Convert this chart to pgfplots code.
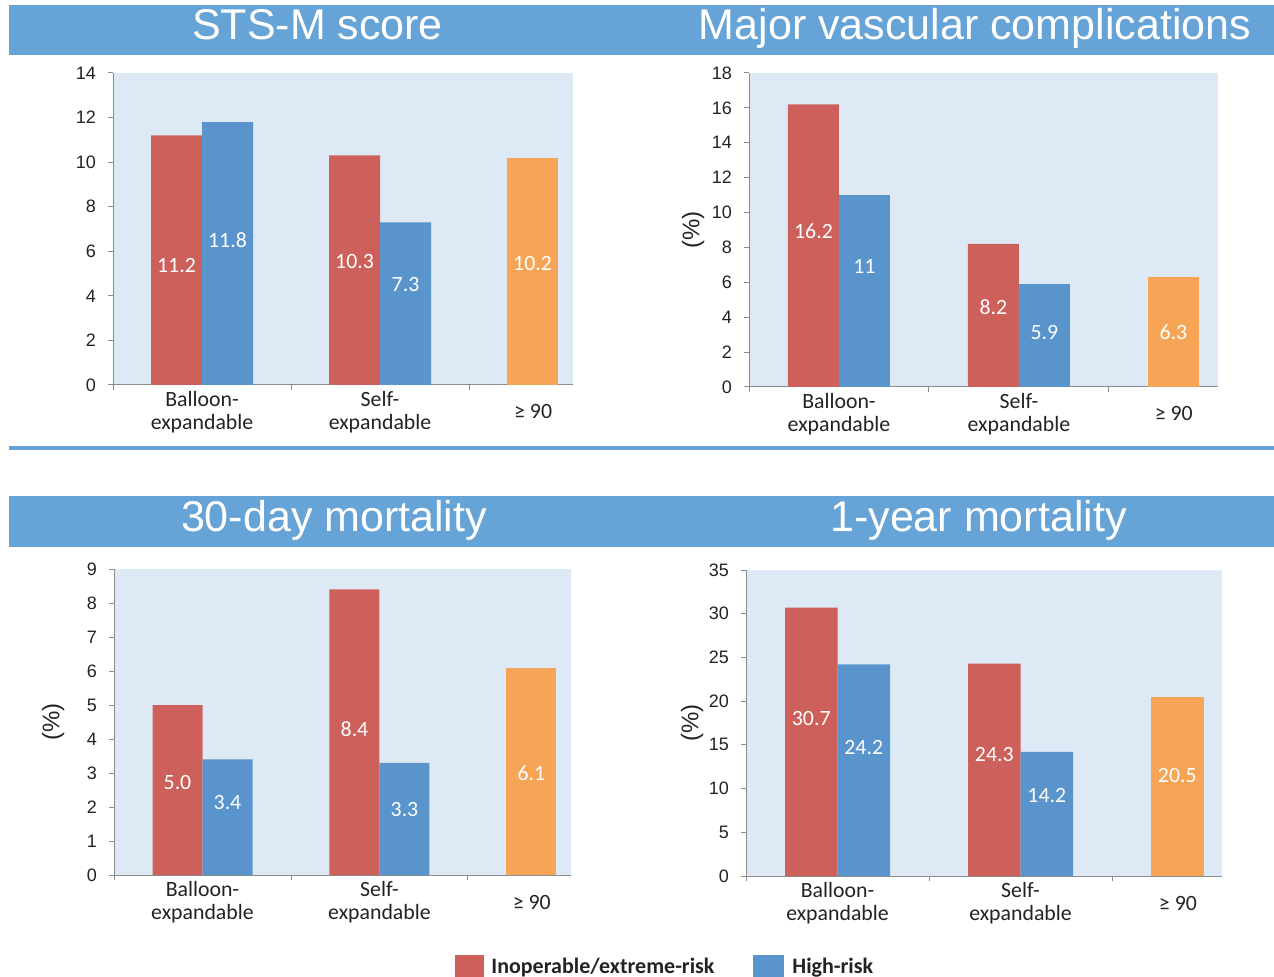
\documentclass[border=0pt]{standalone}
\usepackage{pgfplots}
\pgfplotsset{compat=1.18}
\usepackage{fontspec}
\setmainfont{Liberation Sans}
\newfontfamily\calibri{Carlito}

\definecolor{banner}{RGB}{102,163,215}
\definecolor{barred}{RGB}{205,96,90}
\definecolor{barblue}{RGB}{90,148,204}
\definecolor{barorange}{RGB}{245,165,85}
\definecolor{plotbg}{RGB}{221,234,246}
\definecolor{axisgray}{RGB}{140,140,140}
\definecolor{labeltext}{RGB}{35,35,35}

\tikzset{
  vlabel/.style={font=\calibri\fontsize{10.9}{12}\selectfont, text=white, inner sep=0pt},
  paneltitle/.style={font=\fontsize{21.5}{24}\selectfont, text=white, anchor=base, inner sep=0pt},
}

\pgfplotsset{
  panel/.style={
    scale only axis,
    anchor=south west,
    clip=false,
    axis x line*=bottom,
    axis y line*=left,
    axis line style={-, draw=axisgray, line width=0.5pt},
    axis background/.style={fill=plotbg},
    xmin=0, ymin=0,
    xtick={0,1,2}, xticklabels={},
    tick align=outside,
    major tick length=2.5pt,
    tick style={draw=axisgray, line width=0.5pt},
    /pgf/number format/assume math mode=true,
    yticklabel style={font=\fontsize{9}{10}\selectfont, text=labeltext, xshift=-2.5pt},
    extra x ticks={0.5,1.5,2.36},
    extra x tick labels={{Balloon-\\expandable},{Self-\\expandable},{≥ 90}},
    extra x tick style={major tick length=0pt,
      xticklabel style={align=center, anchor=center, yshift=-13.5pt,
        font=\calibri\fontsize{10.9}{11.5}\selectfont, text=labeltext}},
  },
  pctlabel/.style={
    ylabel={(\%)},
    ylabel style={at={(axis description cs:#1,0.5)}, anchor=center,
      font=\fontsize{12}{14}\selectfont, text=labeltext},
  },
  redbar/.style={ybar, fill=barred, draw=none},
  bluebar/.style={ybar, fill=barblue, draw=none},
  orangebar/.style={ybar, fill=barorange, draw=none},
}

\begin{document}
\begin{tikzpicture}

% page background, banners and divider
\begin{scope}[x=0.5pt,y=-0.5pt]
  \fill[white] (0,0) rectangle (1274,977);
  \fill[banner] (9,5) rectangle (1274,55);
  \fill[banner] (9,496) rectangle (1274,547);
  \fill[banner] (9,446) rectangle (1274,450);
  \node[paneltitle] at (317.5,40) {STS-M score};
  \node[paneltitle] at (975,40) {Major vascular complications};
  \node[paneltitle] at (334,532) {30-day mortality};
  \node[paneltitle] at (978.5,532) {1-year mortality};
\end{scope}

% STS-M score
\begin{axis}[panel, at={(56.5pt,-192.5pt)}, width=230pt, height=156pt,
  xmax=2.584, ymax=14, ytick={0,2,...,14}]
  \addplot[redbar, bar width=25.5pt, bar shift=-12.75pt] coordinates {(0.5,11.2) (1.5,10.3)};
  \addplot[bluebar, bar width=25.5pt, bar shift=12.75pt] coordinates {(0.5,11.8) (1.5,7.3)};
  \addplot[orangebar, bar width=25.5pt, bar shift=-12.75pt] coordinates {(2.5,10.2)};
  \node[vlabel, xshift=-12.75pt] at (axis cs:0.5,5.38) {11.2};
  \node[vlabel, xshift=12.75pt] at (axis cs:0.5,6.5) {11.8};
  \node[vlabel, xshift=-12.75pt] at (axis cs:1.5,5.56) {10.3};
  \node[vlabel, xshift=12.75pt] at (axis cs:1.5,4.53) {7.3};
  \node[vlabel, xshift=-12.75pt] at (axis cs:2.5,5.47) {10.2};
\end{axis}

% Major vascular complications
\begin{axis}[panel, pctlabel=-0.119, at={(374.5pt,-193.5pt)}, width=234.5pt, height=157pt,
  xmax=2.606, ymax=18, ytick={0,2,...,18}]
  \addplot[redbar, bar width=25.5pt, bar shift=-12.75pt] coordinates {(0.5,16.2) (1.5,8.2)};
  \addplot[bluebar, bar width=25.5pt, bar shift=12.75pt] coordinates {(0.5,11) (1.5,5.9)};
  \addplot[orangebar, bar width=25.5pt, bar shift=-12.75pt] coordinates {(2.5,6.3)};
  \node[vlabel, xshift=-12.75pt] at (axis cs:0.5,8.94) {16.2};
  \node[vlabel, xshift=12.75pt] at (axis cs:0.5,6.88) {11};
  \node[vlabel, xshift=-12.75pt] at (axis cs:1.5,4.59) {8.2};
  \node[vlabel, xshift=12.75pt] at (axis cs:1.5,3.15) {5.9};
  \node[vlabel, xshift=-12.75pt] at (axis cs:2.5,3.15) {6.3};
\end{axis}

% 30-day mortality
\begin{axis}[panel, pctlabel=-0.133, at={(57pt,-437.5pt)}, width=228.5pt, height=153pt,
  xmax=2.582, ymax=9, ytick={0,1,...,9}]
  \addplot[redbar, bar width=25pt, bar shift=-12.5pt] coordinates {(0.5,5.0) (1.5,8.4)};
  \addplot[bluebar, bar width=25pt, bar shift=12.5pt] coordinates {(0.5,3.4) (1.5,3.3)};
  \addplot[orangebar, bar width=25pt, bar shift=-12.5pt] coordinates {(2.5,6.1)};
  \node[vlabel, xshift=-12.5pt] at (axis cs:0.5,2.71) {5.0};
  \node[vlabel, xshift=12.5pt] at (axis cs:0.5,2.12) {3.4};
  \node[vlabel, xshift=-12.5pt] at (axis cs:1.5,4.29) {8.4};
  \node[vlabel, xshift=12.5pt] at (axis cs:1.5,1.94) {3.3};
  \node[vlabel, xshift=-12.5pt] at (axis cs:2.5,3.0) {6.1};
\end{axis}

% 1-year mortality
\begin{axis}[panel, pctlabel=-0.113, at={(373pt,-438pt)}, width=238pt, height=153pt,
  xmax=2.601, ymax=35, ytick={0,5,...,35}]
  \addplot[redbar, bar width=26.25pt, bar shift=-13.125pt] coordinates {(0.5,30.7) (1.5,24.3)};
  \addplot[bluebar, bar width=26.25pt, bar shift=13.125pt] coordinates {(0.5,24.2) (1.5,14.2)};
  \addplot[orangebar, bar width=26.25pt, bar shift=-13.125pt] coordinates {(2.5,20.5)};
  \node[vlabel, xshift=-13.125pt] at (axis cs:0.5,17.96) {30.7};
  \node[vlabel, xshift=13.125pt] at (axis cs:0.5,14.64) {24.2};
  \node[vlabel, xshift=-13.125pt] at (axis cs:1.5,13.95) {24.3};
  \node[vlabel, xshift=13.125pt] at (axis cs:1.5,9.26) {14.2};
  \node[vlabel, xshift=-13.125pt] at (axis cs:2.5,11.44) {20.5};
\end{axis}

% legend
\begin{scope}[x=0.5pt,y=-0.5pt]
  \fill[barred] (455,955) rectangle (484,977);
  \node[anchor=base west, inner sep=0pt, font=\calibri\bfseries\fontsize{11}{13}\selectfont, text=labeltext] at (491,973) {Inoperable/extreme-risk};
  \fill[barblue] (753,955) rectangle (784,977);
  \node[anchor=base west, inner sep=0pt, font=\calibri\bfseries\fontsize{11}{13}\selectfont, text=labeltext] at (792,973) {High-risk};
\end{scope}

\pgfresetboundingbox
\begin{scope}[x=0.5pt,y=-0.5pt]
  \useasboundingbox (0,0) rectangle (1274,977);
\end{scope}
\end{tikzpicture}
\end{document}
